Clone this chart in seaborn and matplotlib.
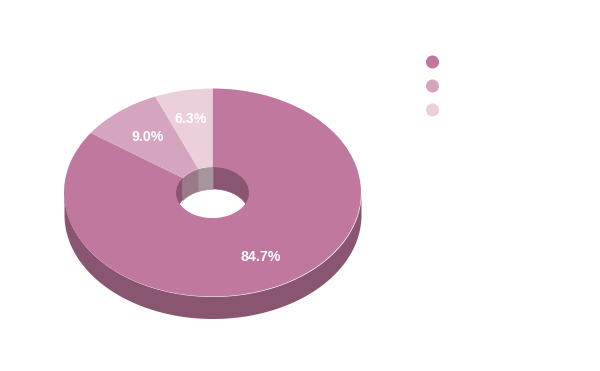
#!/usr/bin/env python3
# -*- coding: utf-8 -*-
import numpy as np
import matplotlib
matplotlib.use('Agg')
import matplotlib.pyplot as plt
import seaborn as sns

categories = ['first', 'second', 'third']
shares = [84.7, 9.0, 6.3]
top_colors = ['#C0789E', '#D5A5BF', '#EBCFDB']
wall_colors = ['#8A5570', '#9A7A88', '#A6959C']

W, H = 600, 371
CX, CY = 212.5, 192.5      # ellipse centre, px
RX, RY = 148.5, 104.0      # ellipse radii, px
DEPTH = 22.0 / RY          # extrusion in y data units
HOLE = 0.246               # hole radius / outer radius

sns.set_theme(style='white')
plt.rcParams['font.family'] = ['Liberation Sans', 'DejaVu Sans']

fig = plt.figure(figsize=(W / 100, H / 100), dpi=100)
ax = fig.add_axes([0, 0, 1, 1])

# outer wall, only the front half shows
t = np.linspace(np.pi, 2 * np.pi, 300)
ax.fill_between(np.cos(t), np.sin(t), np.sin(t) - DEPTH,
                color=wall_colors[0], linewidth=0, zorder=1)

# inner wall of the hole, back half, split at the slice boundaries
edges = 90 - np.cumsum([0] + shares) * 3.6
for i in range(len(shares)):
    a = np.radians(np.linspace(edges[i + 1], edges[i], 800))
    x, y = HOLE * np.cos(a), HOLE * np.sin(a)
    # thin edge in the same colour closes the seam between neighbours
    ax.fill_between(x, y, y - DEPTH, where=np.sin(a) > 0, color=wall_colors[i],
                    edgecolor=wall_colors[i], linewidth=0.5, zorder=1)

# top face
wedges, _, pct = ax.pie(shares, colors=top_colors, startangle=90, counterclock=False,
                        radius=1, autopct='%.1f%%', pctdistance=0.7,
                        wedgeprops=dict(width=1 - HOLE, linewidth=0, zorder=2))
# small label nudges in px (right, up)
nudges = [(0, 0), (0, -1.5), (-1, 2.5)]
for p, (dx, dy) in zip(pct, nudges):
    px, py = p.get_position()
    p.set_position((px + dx / RX, py + dy / RY))
    p.set(color='white', fontsize=10.2, fontweight='bold', zorder=3)

ax.set_aspect('auto')
ax.set_xlim(-CX / RX, (W - CX) / RX)
ax.set_ylim(-(H - CY) / RY, CY / RY)
ax.axis('off')

# legend dots, labels are not visible in the chart
lax = fig.add_axes([420.5 / W, 1 - 122 / H, 24 / W, 72 / H])
sns.scatterplot(x=[0] * len(categories), y=categories, hue=categories,
                palette=top_colors, s=88, linewidth=0, legend=False, ax=lax)
lax.set_xlim(-1, 1)
lax.set_ylim(2.5, -0.5)
lax.axis('off')

fig.savefig('out.png', dpi=100)
